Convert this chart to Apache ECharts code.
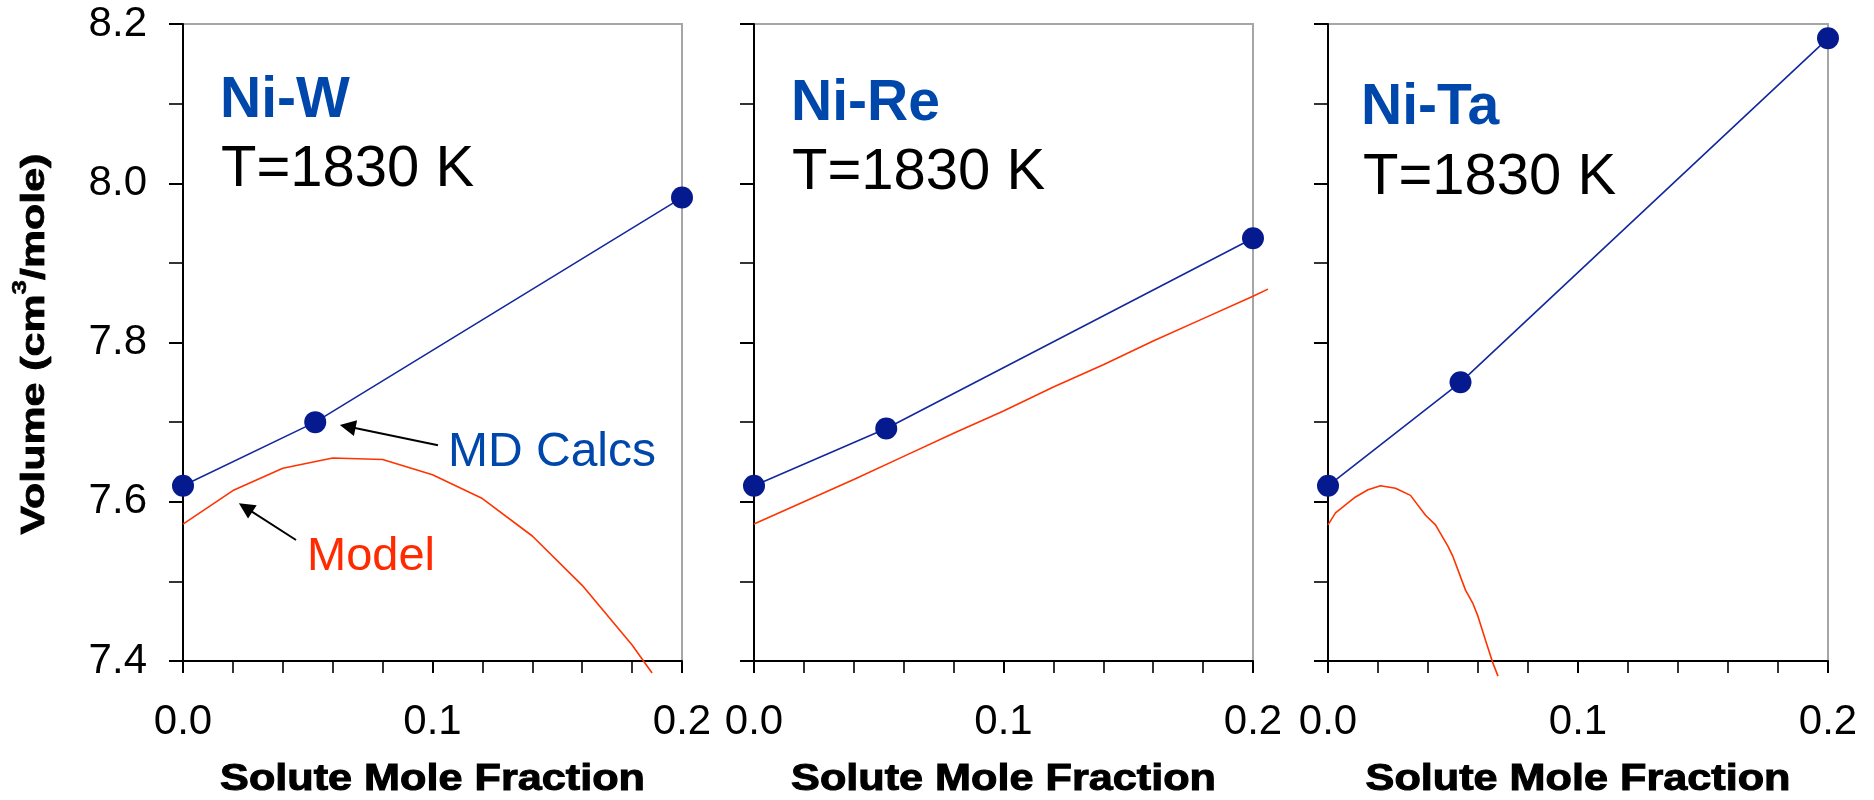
<!DOCTYPE html>
<html>
<head>
<meta charset="utf-8">
<script src="https://cdn.jsdelivr.net/npm/echarts/dist/echarts.min.js"></script>
<style>
  html, body { margin: 0; padding: 0; background: #ffffff; }
  #chart { width: 1874px; height: 800px; }
</style>
</head>
<body>
<div id="chart"></div>
<script>
// ---- data ----
const alloyNames = ['Ni-W', 'Ni-Re', 'Ni-Ta'];
const temperatureText = 'T=1830 K';
const xTickValues = [0.0, 0.1, 0.2];
const yTickValues = [7.4, 7.6, 7.8, 8.0, 8.2];

// MD calculated volumes [solute mole fraction, cm^3/mole]
const mdNiW  = [[0, 7.620], [0.053, 7.700], [0.2, 7.982]];
const mdNiRe = [[0, 7.620], [0.053, 7.692], [0.2, 7.931]];
const mdNiTa = [[0, 7.620], [0.053, 7.750], [0.2, 8.182]];

// Model curves
const modelNiW = [
  [0.00, 7.572], [0.02, 7.614], [0.04, 7.642], [0.06, 7.655], [0.08, 7.653],
  [0.10, 7.634], [0.12, 7.604], [0.14, 7.557], [0.16, 7.495], [0.18, 7.420],
  [0.188, 7.385]
];
const modelNiRe = [
  [0.00, 7.572], [0.02, 7.600], [0.04, 7.628], [0.06, 7.657], [0.08, 7.686],
  [0.10, 7.714], [0.12, 7.744], [0.14, 7.772], [0.16, 7.802], [0.18, 7.830],
  [0.20, 7.858], [0.206, 7.867]
];
const modelNiTa = [
  [0.000, 7.571], [0.003, 7.586], [0.011, 7.606], [0.016, 7.615], [0.021, 7.620],
  [0.027, 7.617], [0.033, 7.608], [0.039, 7.583], [0.043, 7.571], [0.048, 7.544],
  [0.050, 7.531], [0.055, 7.489], [0.058, 7.472], [0.060, 7.456], [0.063, 7.426],
  [0.066, 7.397], [0.068, 7.381]
];

// arrows pointing at the curves: [from, to] in data coordinates
const mdArrow    = [[0.1022, 7.671], [0.0660, 7.6944]];
const modelArrow = [[0.0453, 7.552], [0.0251, 7.5927]];

// ---- layout / style ----
const FONT = '"Liberation Sans", Arial, Helvetica, sans-serif';
const BLUE_TEXT = '#0047AB';
const RED = '#FF3300';
const PLOT_TOP = 24, PLOT_H = 637;
const panels = [
  { md: mdNiW,  model: modelNiW,  left: 183,  width: 499, nameX: 220,  nameY: 101, tX: 221,  tY: 170 },
  { md: mdNiRe, model: modelNiRe, left: 754,  width: 499, nameX: 791,  nameY: 104, tX: 792,  tY: 173 },
  { md: mdNiTa, model: modelNiTa, left: 1328, width: 500, nameX: 1361, nameY: 108, tX: 1363, tY: 178 }
];
// the Ni-Re model runs a little past x = 0.2, so it sits on an invisible,
// proportionally wider coordinate system sharing the same origin and scale
const OVERRUN_MAX = 0.21;

const fmt1 = v => Number(v).toFixed(1);
const xMin = xTickValues[0], xMax = xTickValues[xTickValues.length - 1];
const yMin = yTickValues[0], yMax = yTickValues[yTickValues.length - 1];

const grids = panels.map(p => ({
  left: p.left, width: p.width, top: PLOT_TOP, height: PLOT_H,
  show: true, borderColor: '#a6a6a6', borderWidth: 2, backgroundColor: 'transparent',
  containLabel: false, outerBoundsMode: 'none'
}));
grids.push({
  left: panels[1].left, width: panels[1].width * (OVERRUN_MAX - xMin) / (xMax - xMin),
  top: PLOT_TOP, height: PLOT_H, show: false, containLabel: false, outerBoundsMode: 'none'
});

const xAxes = panels.map((p, i) => ({
  gridIndex: i, type: 'value',
  min: xMin, max: xMax,
  interval: xTickValues[1] - xTickValues[0],
  axisLine: { show: true, onZero: false, lineStyle: { color: '#000', width: 2 } },
  axisTick: { show: true, inside: false, length: 12, lineStyle: { color: '#000', width: 2 } },
  minorTick: { show: true, splitNumber: 5, length: 12, lineStyle: { color: '#000', width: 1.6 } },
  splitLine: { show: false }, minorSplitLine: { show: false },
  axisLabel: {
    show: true, margin: 40, color: '#000', fontSize: 42, fontFamily: FONT,
    formatter: fmt1, showMinLabel: true, showMaxLabel: true, hideOverlap: false
  }
}));
xAxes.push({ gridIndex: 3, type: 'value', min: xMin, max: OVERRUN_MAX, show: false });

const yAxes = panels.map((p, i) => ({
  gridIndex: i, type: 'value',
  min: yMin, max: yMax,
  interval: yTickValues[1] - yTickValues[0],
  axisLine: { show: true, onZero: false, lineStyle: { color: '#000', width: 2 } },
  axisTick: { show: true, inside: false, length: 14, lineStyle: { color: '#000', width: 2 } },
  minorTick: { show: true, splitNumber: 2, length: 14, lineStyle: { color: '#000', width: 1.6 } },
  splitLine: { show: false }, minorSplitLine: { show: false },
  axisLabel: {
    show: i === 0, margin: 36, color: '#000', fontSize: 42, fontFamily: FONT,
    formatter: fmt1, showMinLabel: true, showMaxLabel: true
  }
}));
yAxes.push({ gridIndex: 3, type: 'value', min: yMin, max: yMax, show: false });

const series = [];
panels.forEach((p, i) => {
  const axisIdx = i === 1 ? 3 : i;
  series.push({
    type: 'line', xAxisIndex: axisIdx, yAxisIndex: axisIdx, data: p.model,
    showSymbol: false, symbol: 'none', clip: false, z: 2,
    lineStyle: { color: RED, width: 1.6 }, itemStyle: { color: RED }
  });
  const md = {
    type: 'line', xAxisIndex: i, yAxisIndex: i, data: p.md,
    symbol: 'circle', symbolSize: 22, z: 3,
    lineStyle: { color: '#14289E', width: 1.6 },
    itemStyle: { color: '#061A8F', borderWidth: 0 }
  };
  if (i === 0) {
    md.markLine = {
      silent: true, animation: false,
      symbol: ['none', 'triangle'], symbolSize: 16,
      lineStyle: { color: '#000', width: 2, type: 'solid' },
      itemStyle: { color: '#000' },
      label: { show: false },
      emphasis: { disabled: true },
      data: [
        [{ coord: mdArrow[0] }, { coord: mdArrow[1] }],
        [{ coord: modelArrow[0] }, { coord: modelArrow[1] }]
      ]
    };
  }
  series.push(md);
});

function textEl(text, x, y, size, color, bold, align) {
  return {
    type: 'text', x: x, y: y, silent: true, z: 10,
    style: {
      text: text, fill: color,
      font: (bold ? 'bold ' : '') + size + 'px ' + FONT,
      align: align || 'left', verticalAlign: 'middle',
      textAlign: align || 'left', textVerticalAlign: 'middle'
    }
  };
}

const graphics = [];
panels.forEach((p, i) => {
  graphics.push(textEl(alloyNames[i], p.nameX, p.nameY, 57, BLUE_TEXT, true));
  graphics.push(textEl(temperatureText, p.tX, p.tY, 58, '#000', false));
  // x-axis title, set in a wide heavy face
  const xt = textEl('Solute Mole Fraction', p.left + p.width / 2, 780, 36, '#000', true, 'center');
  xt.scaleX = 1.2;
  xt.style.stroke = '#000';
  xt.style.lineWidth = 1;
  graphics.push(xt);
});
graphics.push(textEl('MD Calcs', 448, 453, 48, BLUE_TEXT, false));
graphics.push(textEl('Model', 307, 557, 47, '#FF2A00', false));

// y-axis title with superscript
graphics.push({
  type: 'text', x: 35, y: 344, rotation: Math.PI / 2, scaleX: 1.3, silent: true, z: 10,
  style: {
    text: '{a|Volume (cm}{s|3}{a|/mole)}',
    align: 'center', verticalAlign: 'middle',
    textAlign: 'center', textVerticalAlign: 'middle',
    rich: {
      a: { fontFamily: FONT, fontWeight: 'bold', fontSize: 33, lineHeight: 50, fill: '#000', stroke: '#000', lineWidth: 0.8 },
      s: { fontFamily: FONT, fontWeight: 'bold', fontSize: 20, lineHeight: 20, verticalAlign: 'top', fill: '#000', stroke: '#000', lineWidth: 0.5 }
    }
  }
});

const chart = echarts.init(document.getElementById('chart'), null, { renderer: 'canvas' });
chart.setOption({
  animation: false,
  backgroundColor: '#ffffff',
  textStyle: { fontFamily: FONT },
  grid: grids,
  xAxis: xAxes,
  yAxis: yAxes,
  series: series,
  graphic: graphics
});
</script>
</body>
</html>
